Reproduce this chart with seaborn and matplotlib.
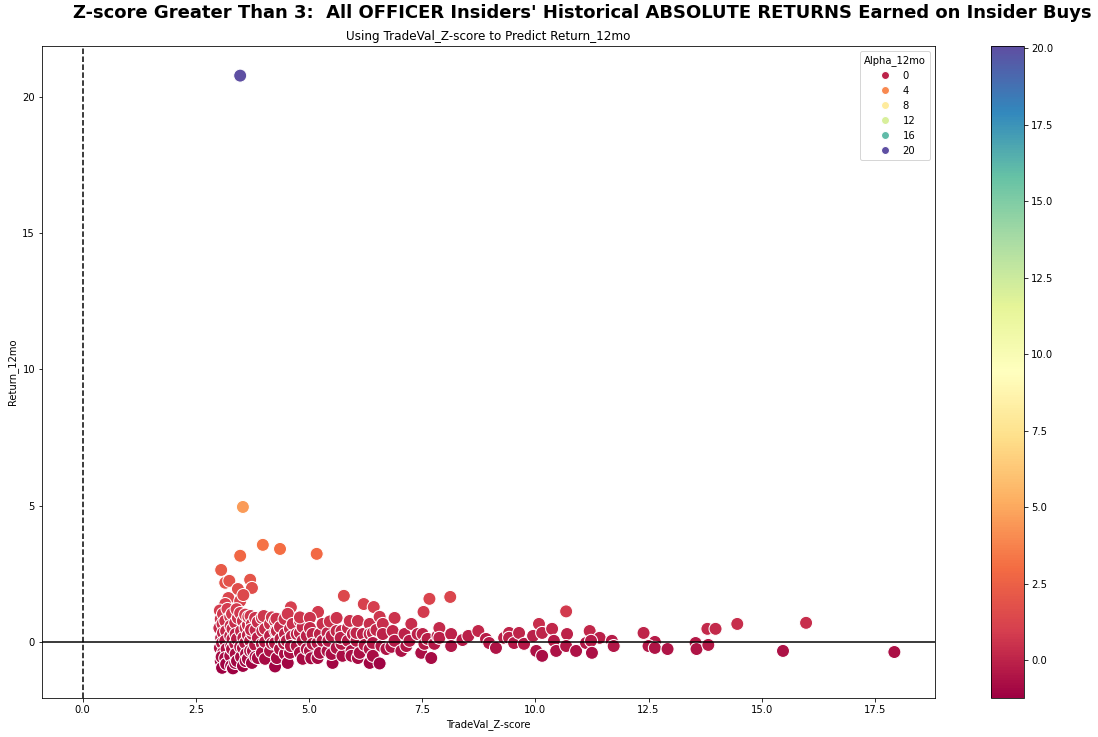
import pandas as pd
import matplotlib
matplotlib.use("Agg")
import matplotlib.pyplot as plt
import seaborn as sns

# values (estimated)
tradeval_z = [
    3.48, 3.54, 3.98, 4.36, 5.17, 3.48, 3.06, 3.15, 3.24, 3.70, 3.74, 3.43,
    5.77, 7.66, 8.12, 3.22, 3.15, 3.48, 3.55, 6.21, 6.43, 4.60, 5.20, 7.53, 10.68,
    3.03, 3.05, 3.02, 3.06, 3.03, 3.05, 3.08, 3.10, 3.09, 3.10, 3.08, 3.10, 3.07,
    3.15, 3.17, 3.15, 3.18, 3.15, 3.17, 3.20,
    3.26, 3.27, 3.26, 3.28, 3.26, 3.28, 3.30, 3.31, 3.30, 3.32, 3.31,
    3.37, 3.38, 3.37, 3.38, 3.37, 3.41, 3.43, 3.41, 3.40,
    3.48, 3.50, 3.48, 3.50, 3.54, 3.54, 3.54, 3.55,
    3.59, 3.60, 3.59, 3.61, 3.60, 3.65, 3.65, 3.65, 3.66,
    3.70, 3.71, 3.70, 3.74, 3.75, 3.76, 3.74, 3.72,
    3.81, 3.82, 3.81, 3.82, 3.87, 3.87, 3.87,
    3.96, 3.96, 3.97, 3.96, 4.03, 4.03, 4.03, 4.00,
    4.14, 4.14, 4.14, 4.18, 4.18,
    4.25, 4.25, 4.25, 4.26, 4.29, 4.29, 4.28,
    4.36, 4.36, 4.37, 4.47, 4.47, 4.46, 4.45,
    4.53, 4.53, 4.51, 4.58, 4.58, 4.64, 4.62, 4.60,
    4.73, 4.73, 4.80, 4.80, 4.80, 4.86, 4.86, 4.86, 4.80,
    4.95, 4.95, 5.02, 5.02, 5.02, 5.08, 5.08, 5.05,
    5.19, 5.19, 5.24, 5.24, 5.30, 5.30,
    5.41, 5.41, 5.43, 5.52, 5.50, 5.50, 5.46,
    5.61, 5.61, 5.61, 5.72, 5.74, 5.72, 5.70,
    5.86, 5.86, 5.90, 5.94, 5.94, 5.97,
    6.05, 6.05, 6.08, 6.12, 6.08, 6.19, 6.23,
    6.34, 6.34, 6.34, 6.34, 6.41, 6.41, 6.41, 6.49,
    6.56, 6.56, 6.60, 6.63, 6.63, 6.71,
    6.85, 6.82, 6.89, 6.89,
    7.04, 7.11, 7.15, 7.22, 7.26,
    7.40, 7.48, 7.51, 7.55, 7.62, 7.70,
    7.77, 7.84, 7.88, 7.88, 8.14, 8.14,
    8.39, 8.52, 8.74, 8.91, 8.98, 9.13, 9.31, 9.42, 9.42, 9.53, 9.64, 9.75,
    9.95, 10.02, 10.08, 10.15, 10.15, 10.37, 10.41, 10.46, 10.70, 10.68, 10.90,
    11.20, 11.42, 11.69, 11.73, 11.12, 11.23, 11.25,
    12.39, 12.64, 12.50, 12.64, 12.92, 13.54, 13.56, 13.82, 13.80, 13.98,
    14.46, 15.47, 15.98, 17.93,
]
return_12mo = [
    20.77, 4.95, 3.56, 3.41, 3.23, 3.16, 2.64, 2.17, 2.24, 2.28, 1.98, 1.94,
    1.69, 1.58, 1.65, 1.61, 1.39, 1.50, 1.72, 1.39, 1.28, 1.27, 1.10, 1.10, 1.12,
    1.15, 0.84, 0.51, 0.15, -0.22, -0.70, -0.95, 1.03, 0.66, 0.33, -0.04, -0.40, -0.55,
    0.77, 0.40, 0.04, -0.26, -0.59, -0.81, 1.21,
    0.92, 0.59, 0.22, -0.15, -0.51, -0.88, 1.03, 0.48, -0.26, -0.97, 0.11,
    0.70, 0.29, -0.07, -0.44, -0.77, 0.11, 0.88, -0.70, 1.20,
    1.06, 0.40, -0.18, -0.55, 0.77, -0.22, -0.88, 0.15,
    1.00, 0.51, -0.04, -0.44, -0.70, 0.62, 0.25, -0.62, 0.92,
    0.04, 0.95, -0.33, 0.66, 0.29, -0.33, -0.77, 0.45,
    0.88, 0.44, -0.11, -0.55, -0.59, 0.15, 0.73,
    0.88, -0.07, 0.40, -0.40, 0.48, 0.00, -0.62, 0.95,
    -0.33, 0.66, 0.22, 0.90, -0.05,
    0.77, -0.04, -0.90, 0.40, 0.40, -0.59, 0.85,
    -0.26, 0.55, 0.11, 0.29, -0.44, 0.84, -0.05,
    1.03, -0.77, 0.04, 0.48, -0.40, 0.66, 0.20, -0.15,
    -0.15, 0.29, 0.77, 0.33, -0.40, 0.04, 0.55, -0.62, 0.90,
    -0.26, 0.22, 0.88, 0.51, -0.33, 0.29, -0.07, -0.60,
    -0.04, -0.59, 0.29, -0.40, 0.66, 0.04,
    0.33, -0.33, 0.04, -0.77, 0.22, -0.44, 0.75,
    0.88, 0.40, -0.22, 0.40, -0.51, -0.07, 0.15,
    0.04, 0.51, 0.77, -0.33, -0.51, 0.29,
    0.04, 0.33, -0.59, -0.40, 0.77, 0.29, -0.11,
    0.66, 0.29, -0.77, -0.26, 0.33, -0.04, -0.51, 0.44,
    0.92, -0.79, -0.15, 0.66, 0.29, -0.26,
    0.40, -0.18, 0.88, 0.04,
    -0.33, 0.29, -0.15, 0.04, 0.66,
    0.29, -0.40, 0.29, -0.07, 0.11, -0.59,
    -0.07, 0.22, 0.51, 0.15, 0.29, -0.15,
    0.07, 0.22, 0.40, 0.11, -0.04, -0.22, 0.15, 0.33, 0.15, -0.04, 0.33, -0.07,
    0.22, -0.33, 0.66, 0.33, -0.51, 0.48, 0.04, -0.33, 0.29, -0.15, -0.33,
    0.40, 0.15, 0.04, -0.15, -0.04, 0.04, -0.40,
    0.33, 0.00, -0.15, -0.22, -0.26, -0.04, -0.26, -0.11, 0.48, 0.48,
    0.66, -0.33, 0.70, -0.37,
]
alpha_12mo = [
    20.07, 4.55, 3.20, 3.05, 2.90, 2.80, 2.25, 1.85, 1.90, 1.95, 1.65, 1.60,
    1.35, 1.25, 1.30, 1.30, 1.05, 1.15, 1.40, 1.05, 0.95, 0.95, 0.80, 0.80, 0.80,
    0.85, 0.55, 0.20, -0.15, -0.50, -1.00, -1.20, 0.70, 0.35, 0.05, -0.35, -0.70, -0.85,
    0.45, 0.10, -0.25, -0.55, -0.90, -1.10, 0.90,
    0.60, 0.30, -0.10, -0.45, -0.80, -1.15, 0.70, 0.20, -0.55, -1.24, -0.20,
    0.40, 0.00, -0.35, -0.75, -1.05, -0.20, 0.55, -1.00, 0.90,
    0.75, 0.10, -0.50, -0.85, 0.45, -0.50, -1.15, -0.15,
    0.70, 0.20, -0.35, -0.75, -1.00, 0.30, -0.05, -0.90, 0.60,
    -0.25, 0.65, -0.60, 0.35, 0.00, -0.65, -1.05, 0.15,
    0.55, 0.15, -0.40, -0.85, -0.90, -0.15, 0.40,
    0.55, -0.40, 0.10, -0.70, 0.20, -0.30, -0.90, 0.65,
    -0.60, 0.35, -0.10, 0.60, -0.35,
    0.45, -0.35, -1.15, 0.10, 0.10, -0.90, 0.55,
    -0.55, 0.25, -0.20, 0.00, -0.75, 0.55, -0.35,
    0.70, -1.05, -0.25, 0.20, -0.70, 0.35, -0.10, -0.45,
    -0.45, 0.00, 0.45, 0.05, -0.70, -0.25, 0.25, -0.90, 0.60,
    -0.55, -0.10, 0.55, 0.20, -0.65, 0.00, -0.35, -0.90,
    -0.35, -0.90, 0.00, -0.70, 0.35, -0.25,
    0.05, -0.60, -0.25, -1.05, -0.10, -0.75, 0.45,
    0.55, 0.10, -0.50, 0.10, -0.80, -0.35, -0.15,
    -0.25, 0.20, 0.45, -0.65, -0.80, 0.00,
    -0.25, 0.05, -0.90, -0.70, 0.45, 0.00, -0.40,
    0.35, 0.00, -1.05, -0.55, 0.05, -0.35, -0.80, 0.15,
    0.60, -1.10, -0.45, 0.35, 0.00, -0.55,
    0.10, -0.50, 0.55, -0.25,
    -0.65, 0.00, -0.45, -0.25, 0.35,
    0.00, -0.70, 0.00, -0.35, -0.20, -0.90,
    -0.35, -0.10, 0.20, -0.15, 0.00, -0.45,
    -0.25, -0.10, 0.10, -0.20, -0.35, -0.50, -0.15, 0.05, -0.15, -0.35, 0.05, -0.35,
    -0.10, -0.65, 0.35, 0.05, -0.80, 0.15, -0.25, -0.65, 0.00, -0.45, -0.65,
    0.10, -0.15, -0.25, -0.45, -0.35, -0.25, -0.70,
    0.05, -0.30, -0.45, -0.50, -0.55, -0.35, -0.55, -0.40, 0.20, 0.20,
    0.35, -0.65, 0.40, -0.70,
]

df = pd.DataFrame({
    "TradeVal_Z-score": tradeval_z,
    "Return_12mo": return_12mo,
    "Alpha_12mo": alpha_12mo,
})

fig = plt.figure(figsize=(1098 / 72, 737 / 72), dpi=72)
ax = fig.add_axes([0.0383, 0.0529, 0.8132, 0.8847])
cax = fig.add_axes([0.9026, 0.0529, 0.030, 0.8847])

sns.scatterplot(data=df, x="TradeVal_Z-score", y="Return_12mo", hue="Alpha_12mo",
                palette="Spectral", s=170, ax=ax)
ax.axhline(0, color="black")
ax.axvline(0, color="black", linestyle="--")

ax.set_title("Using TradeVal_Z-score to Predict Return_12mo", fontsize=12)
fig.suptitle("Z-score Greater Than 3:  All OFFICER Insiders' Historical ABSOLUTE RETURNS Earned on Insider Buys",
             fontsize=18, fontweight="bold", x=0.53, y=0.995)
leg = ax.legend(title="Alpha_12mo", loc="upper right")
for h in leg.legend_handles:
    if hasattr(h, "set_markersize"):
        h.set_markersize(8)
    else:
        h.set_sizes([60])

norm = plt.Normalize(df["Alpha_12mo"].min(), df["Alpha_12mo"].max())
sm = plt.cm.ScalarMappable(cmap="Spectral", norm=norm)
fig.colorbar(sm, cax=cax)

fig.savefig("out.png", dpi=72)
